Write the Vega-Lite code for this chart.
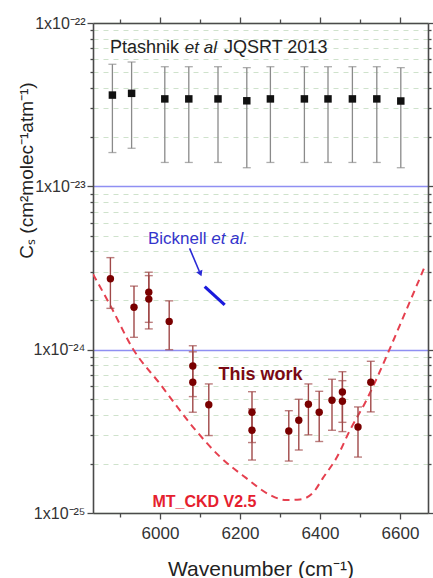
{
  "$schema": "https://vega.github.io/schema/vega-lite/v6.json",
  "width": 335,
  "height": 490,
  "autosize": {"type": "none"},
  "padding": {"left": 93, "top": 23, "right": 5, "bottom": 65},
  "background": "white",
  "config": {"view": {"stroke": null}, "font": "Liberation Sans"},
  "datasets": {
    "ptashnik": [
      {"wn": 5881, "cs": 3.62e-23, "lo": 1.61e-23, "hi": 5.59e-23},
      {"wn": 5929, "cs": 3.71e-23, "lo": 1.71e-23, "hi": 5.77e-23},
      {"wn": 6012, "cs": 3.43e-23, "lo": 1.40e-23, "hi": 5.40e-23},
      {"wn": 6072, "cs": 3.43e-23, "lo": 1.40e-23, "hi": 5.40e-23},
      {"wn": 6145, "cs": 3.43e-23, "lo": 1.40e-23, "hi": 5.40e-23},
      {"wn": 6217, "cs": 3.34e-23, "lo": 1.30e-23, "hi": 5.33e-23},
      {"wn": 6276, "cs": 3.43e-23, "lo": 1.40e-23, "hi": 5.40e-23},
      {"wn": 6361, "cs": 3.43e-23, "lo": 1.40e-23, "hi": 5.40e-23},
      {"wn": 6420, "cs": 3.43e-23, "lo": 1.40e-23, "hi": 5.40e-23},
      {"wn": 6481, "cs": 3.43e-23, "lo": 1.40e-23, "hi": 5.40e-23},
      {"wn": 6542, "cs": 3.43e-23, "lo": 1.40e-23, "hi": 5.40e-23},
      {"wn": 6602, "cs": 3.33e-23, "lo": 1.30e-23, "hi": 5.33e-23}
    ],
    "thiswork": [
      {"wn": 5876, "cs": 2.72e-24, "lo": 1.79e-24, "hi": 3.66e-24},
      {"wn": 5935, "cs": 1.82e-24, "lo": 1.19e-24, "hi": 2.45e-24},
      {"wn": 5972, "cs": 2.25e-24, "lo": 1.47e-24, "hi": 2.98e-24},
      {"wn": 5972, "cs": 2.04e-24, "lo": 1.34e-24, "hi": 2.84e-24},
      {"wn": 6023, "cs": 1.49e-24, "lo": 1.00e-24, "hi": 1.99e-24},
      {"wn": 6082, "cs": 7.95e-25, "lo": 5.16e-25, "hi": 1.057e-24},
      {"wn": 6082, "cs": 6.32e-25, "lo": 4.14e-25, "hi": 9.7e-25},
      {"wn": 6122, "cs": 4.60e-25, "lo": 2.98e-25, "hi": 6.17e-25},
      {"wn": 6230, "cs": 4.14e-25, "lo": 2.70e-25, "hi": 5.53e-25},
      {"wn": 6230, "cs": 3.21e-25, "lo": 2.11e-25, "hi": 4.34e-25},
      {"wn": 6322, "cs": 3.18e-25, "lo": 2.08e-25, "hi": 4.23e-25},
      {"wn": 6347, "cs": 3.70e-25, "lo": 2.43e-25, "hi": 4.97e-25},
      {"wn": 6371, "cs": 4.63e-25, "lo": 3.01e-25, "hi": 6.17e-25},
      {"wn": 6398, "cs": 4.14e-25, "lo": 2.74e-25, "hi": 5.56e-25},
      {"wn": 6430, "cs": 4.90e-25, "lo": 3.21e-25, "hi": 6.59e-25},
      {"wn": 6456, "cs": 5.51e-25, "lo": 3.59e-25, "hi": 7.33e-25},
      {"wn": 6456, "cs": 4.83e-25, "lo": 3.15e-25, "hi": 6.46e-25},
      {"wn": 6495, "cs": 3.36e-25, "lo": 2.20e-25, "hi": 4.46e-25},
      {"wn": 6527, "cs": 6.32e-25, "lo": 4.16e-25, "hi": 8.49e-25}
    ],
    "mtckd": [
      {"wn": 5832.5, "cs": 2.90e-24},
      {"wn": 5875, "cs": 1.88e-24},
      {"wn": 5932.5, "cs": 1.01e-24},
      {"wn": 6000, "cs": 6.17e-25},
      {"wn": 6082.5, "cs": 3.36e-25},
      {"wn": 6150, "cs": 2.21e-25},
      {"wn": 6215, "cs": 1.64e-25},
      {"wn": 6275, "cs": 1.29e-25},
      {"wn": 6315, "cs": 1.20e-25},
      {"wn": 6350, "cs": 1.21e-25},
      {"wn": 6382.5, "cs": 1.33e-25},
      {"wn": 6407.5, "cs": 1.64e-25},
      {"wn": 6442.5, "cs": 2.20e-25},
      {"wn": 6475, "cs": 3.22e-25},
      {"wn": 6512.5, "cs": 4.72e-25},
      {"wn": 6570, "cs": 9.55e-25},
      {"wn": 6600, "cs": 1.42e-24},
      {"wn": 6662.5, "cs": 3.25e-24}
    ],
    "bicknell": [
      {"wn": 6111.75, "cs": 2.43e-24},
      {"wn": 6161.75, "cs": 1.88e-24}
    ],
    "arrow": [
      {"wn": 6074, "cs": 4.17e-24, "wn2": 6098, "cs2": 3.03e-24}
    ],
    "arrowhead": [
      {"wn": 6101, "cs": 2.92e-24}
    ],
    "labels": [
      {"key": "ptashnik", "text": "Ptashnik", "wn": 5875, "cs": 7.0e-23},
      {"key": "ptashnik", "text": "JQSRT 2013", "wn": 6160, "cs": 7.0e-23},
      {"key": "ptashnik_it", "text": "et al", "wn": 6062, "cs": 7.0e-23},
      {"key": "bicknell", "text": "Bicknell", "wn": 5970, "cs": 4.74e-24},
      {"key": "bicknell_it", "text": "et al.", "wn": 6128, "cs": 4.74e-24},
      {"key": "thiswork", "text": "This work", "wn": 6146, "cs": 7.0e-25},
      {"key": "mtckd", "text": "MT_CKD V2.5", "wn": 5981, "cs": 1.17e-25}
    ]
  },
  "layer": [
    {
      "data": {"name": "mtckd"},
      "mark": {"type": "line", "color": "#e5404f", "strokeWidth": 2, "strokeDash": [7, 5], "interpolate": "monotone", "clip": true},
      "encoding": {
        "x": {
          "field": "wn", "type": "quantitative",
          "scale": {"domain": [5832.5, 6670], "nice": false, "zero": false},
          "axis": {
            "orient": "bottom",
            "values": [5900, 6000, 6100, 6200, 6300, 6400, 6500, 6600],
            "format": "d",
            "labelExpr": "datum.value % 200 === 0 ? datum.label : ''",
            "labelOverlap": false, "labelFlush": false, "labelBound": false,
            "labelFontSize": 17, "labelColor": "#333", "labelPadding": 6,
            "tickSize": {"condition": {"test": "datum.value % 200 === 0", "value": 6}, "value": 4},
            "tickColor": "#4a4a4a", "tickWidth": 1.3,
            "domainColor": "#4a4a4a", "domainWidth": 1.6,
            "grid": false,
            "title": "Wavenumber (cm⁻¹)",
            "titleFontSize": 21, "titleFontWeight": "normal", "titleColor": "#222",
            "titleY": 62, "titleBaseline": "alphabetic"
          }
        },
        "y": {
          "field": "cs", "type": "quantitative",
          "scale": {"type": "log", "domain": [1e-25, 1e-22], "nice": false},
          "axis": {
            "orient": "left",
            "values": [1e-25, 2e-25, 3e-25, 4e-25, 5e-25, 6e-25, 7e-25, 8e-25, 9e-25, 1e-24, 2e-24, 3e-24, 4e-24, 5e-24, 6e-24, 7e-24, 8e-24, 9e-24, 1e-23, 2e-23, 3e-23, 4e-23, 5e-23, 6e-23, 7e-23, 8e-23, 9e-23, 1e-22],
            "labelExpr": "round(log(datum.value)/LN10*1000) % 1000 !== 0 ? '' : round(log(datum.value)/LN10) === -22 ? '1x10⁻²²' : round(log(datum.value)/LN10) === -23 ? '1x10⁻²³' : round(log(datum.value)/LN10) === -24 ? '1x10⁻²⁴' : '1x10⁻²⁵'",
            "labelOverlap": false, "labelFlush": false, "labelBound": false,
            "labelFontSize": 16, "labelColor": "#333", "labelPadding": 2,
            "tickSize": {"condition": {"test": "round(log(datum.value)/LN10*1000) % 1000 === 0", "value": 6}, "value": 3},
            "tickColor": "#4a4a4a", "tickWidth": 1.3,
            "domainColor": "#4a4a4a", "domainWidth": 1.6,
            "grid": true,
            "gridColor": {"condition": {"test": "round(log(datum.value)/LN10*1000) % 1000 === 0 && datum.value > 5e-25 && datum.value < 5e-23", "value": "#8f8ff2"}, "value": "#cfe2cc"},
            "gridDash": {"condition": {"test": "round(log(datum.value)/LN10*1000) % 1000 === 0", "value": []}, "value": [5, 5]},
            "gridWidth": {"condition": {"test": "round(log(datum.value)/LN10*1000) % 1000 === 0", "value": 1.4}, "value": 1},
            "gridOpacity": 1,
            "title": "Cₛ (cm²molec⁻¹atm⁻¹)",
            "titleFontSize": 19, "titleFontWeight": "normal", "titleColor": "#222",
            "titleX": -67, "titleY": 147, "titleBaseline": "middle", "titleAngle": 270
          }
        }
      }
    },
    {
      "data": {"name": "ptashnik"},
      "mark": {"type": "rule", "color": "#8a8a8a", "strokeWidth": 1.3},
      "encoding": {
        "x": {
          "field": "wn", "type": "quantitative",
          "scale": {"domain": [5832.5, 6670], "nice": false, "zero": false},
          "axis": {
            "orient": "top",
            "values": [5900, 6000, 6100, 6200, 6300, 6400, 6500, 6600],
            "labels": false,
            "tickSize": {"condition": {"test": "datum.value % 200 === 0", "value": 6}, "value": 4},
            "tickColor": "#4a4a4a", "tickWidth": 1.3,
            "domainColor": "#4a4a4a", "domainWidth": 1.6,
            "grid": false, "title": null
          }
        },
        "y": {
          "field": "lo", "type": "quantitative",
          "scale": {"type": "log", "domain": [1e-25, 1e-22], "nice": false},
          "axis": {
            "orient": "right",
            "values": [1e-25, 2e-25, 3e-25, 4e-25, 5e-25, 6e-25, 7e-25, 8e-25, 9e-25, 1e-24, 2e-24, 3e-24, 4e-24, 5e-24, 6e-24, 7e-24, 8e-24, 9e-24, 1e-23, 2e-23, 3e-23, 4e-23, 5e-23, 6e-23, 7e-23, 8e-23, 9e-23, 1e-22],
            "labels": false,
            "tickSize": {"condition": {"test": "round(log(datum.value)/LN10*1000) % 1000 === 0", "value": 6}, "value": 3},
            "tickColor": "#4a4a4a", "tickWidth": 1.3,
            "domainColor": "#4a4a4a", "domainWidth": 1.6,
            "grid": false, "title": null
          }
        },
        "y2": {"field": "hi"}
      }
    },
    {
      "data": {"name": "ptashnik"},
      "transform": [{"fold": ["lo", "hi"], "as": ["end", "val"]}],
      "mark": {"type": "tick", "orient": "horizontal", "size": 8, "thickness": 1.3, "color": "#8a8a8a"},
      "encoding": {
        "x": {"field": "wn", "type": "quantitative", "axis": null},
        "y": {"field": "val", "type": "quantitative", "axis": null}
      }
    },
    {
      "data": {"name": "ptashnik"},
      "mark": {"type": "point", "shape": "square", "filled": true, "size": 56, "color": "#111", "opacity": 1},
      "encoding": {
        "x": {"field": "wn", "type": "quantitative", "axis": null},
        "y": {"field": "cs", "type": "quantitative", "axis": null}
      }
    },
    {
      "data": {"name": "thiswork"},
      "mark": {"type": "rule", "color": "#a04848", "strokeWidth": 1.4},
      "encoding": {
        "x": {"field": "wn", "type": "quantitative", "axis": null},
        "y": {"field": "lo", "type": "quantitative", "axis": null},
        "y2": {"field": "hi"}
      }
    },
    {
      "data": {"name": "thiswork"},
      "transform": [{"fold": ["lo", "hi"], "as": ["end", "val"]}],
      "mark": {"type": "tick", "orient": "horizontal", "size": 8, "thickness": 1.4, "color": "#a04848"},
      "encoding": {
        "x": {"field": "wn", "type": "quantitative", "axis": null},
        "y": {"field": "val", "type": "quantitative", "axis": null}
      }
    },
    {
      "data": {"name": "thiswork"},
      "mark": {"type": "point", "shape": "circle", "filled": true, "size": 55, "color": "#7a0000", "opacity": 1},
      "encoding": {
        "x": {"field": "wn", "type": "quantitative", "axis": null},
        "y": {"field": "cs", "type": "quantitative", "axis": null}
      }
    },
    {
      "data": {"name": "bicknell"},
      "mark": {"type": "line", "color": "#1a1adc", "strokeWidth": 3.2},
      "encoding": {
        "x": {"field": "wn", "type": "quantitative", "axis": null},
        "y": {"field": "cs", "type": "quantitative", "axis": null}
      }
    },
    {
      "data": {"name": "arrow"},
      "mark": {"type": "rule", "color": "#2a2ad6", "strokeWidth": 1.6},
      "encoding": {
        "x": {"field": "wn", "type": "quantitative", "axis": null},
        "y": {"field": "cs", "type": "quantitative", "axis": null},
        "x2": {"field": "wn2"},
        "y2": {"field": "cs2"}
      }
    },
    {
      "data": {"name": "arrowhead"},
      "mark": {"type": "point", "shape": "triangle-down", "filled": true, "size": 45, "angle": 338, "color": "#2a2ad6", "opacity": 1},
      "encoding": {
        "x": {"field": "wn", "type": "quantitative", "axis": null},
        "y": {"field": "cs", "type": "quantitative", "axis": null}
      }
    },
    {
      "data": {"name": "labels"},
      "transform": [{"filter": "datum.key === 'ptashnik'"}],
      "mark": {"type": "text", "align": "left", "baseline": "middle", "fontSize": 18, "color": "#222"},
      "encoding": {
        "x": {"field": "wn", "type": "quantitative", "axis": null},
        "y": {"field": "cs", "type": "quantitative", "axis": null},
        "text": {"field": "text"}
      }
    },
    {
      "data": {"name": "labels"},
      "transform": [{"filter": "datum.key === 'ptashnik_it'"}],
      "mark": {"type": "text", "align": "left", "baseline": "middle", "fontSize": 17, "fontStyle": "italic", "color": "#222"},
      "encoding": {
        "x": {"field": "wn", "type": "quantitative", "axis": null},
        "y": {"field": "cs", "type": "quantitative", "axis": null},
        "text": {"field": "text"}
      }
    },
    {
      "data": {"name": "labels"},
      "transform": [{"filter": "datum.key === 'bicknell'"}],
      "mark": {"type": "text", "align": "left", "baseline": "middle", "fontSize": 17, "color": "#3434cc"},
      "encoding": {
        "x": {"field": "wn", "type": "quantitative", "axis": null},
        "y": {"field": "cs", "type": "quantitative", "axis": null},
        "text": {"field": "text"}
      }
    },
    {
      "data": {"name": "labels"},
      "transform": [{"filter": "datum.key === 'bicknell_it'"}],
      "mark": {"type": "text", "align": "left", "baseline": "middle", "fontSize": 17, "fontStyle": "italic", "color": "#3434cc"},
      "encoding": {
        "x": {"field": "wn", "type": "quantitative", "axis": null},
        "y": {"field": "cs", "type": "quantitative", "axis": null},
        "text": {"field": "text"}
      }
    },
    {
      "data": {"name": "labels"},
      "transform": [{"filter": "datum.key === 'thiswork'"}],
      "mark": {"type": "text", "align": "left", "baseline": "middle", "fontSize": 18, "fontWeight": "bold", "color": "#7a0a14"},
      "encoding": {
        "x": {"field": "wn", "type": "quantitative", "axis": null},
        "y": {"field": "cs", "type": "quantitative", "axis": null},
        "text": {"field": "text"}
      }
    },
    {
      "data": {"name": "labels"},
      "transform": [{"filter": "datum.key === 'mtckd'"}],
      "mark": {"type": "text", "align": "left", "baseline": "middle", "fontSize": 16, "fontWeight": "bold", "color": "#e5202e"},
      "encoding": {
        "x": {"field": "wn", "type": "quantitative", "axis": null},
        "y": {"field": "cs", "type": "quantitative", "axis": null},
        "text": {"field": "text"}
      }
    }
  ],
  "resolve": {"axis": {"x": "independent", "y": "independent"}}
}
